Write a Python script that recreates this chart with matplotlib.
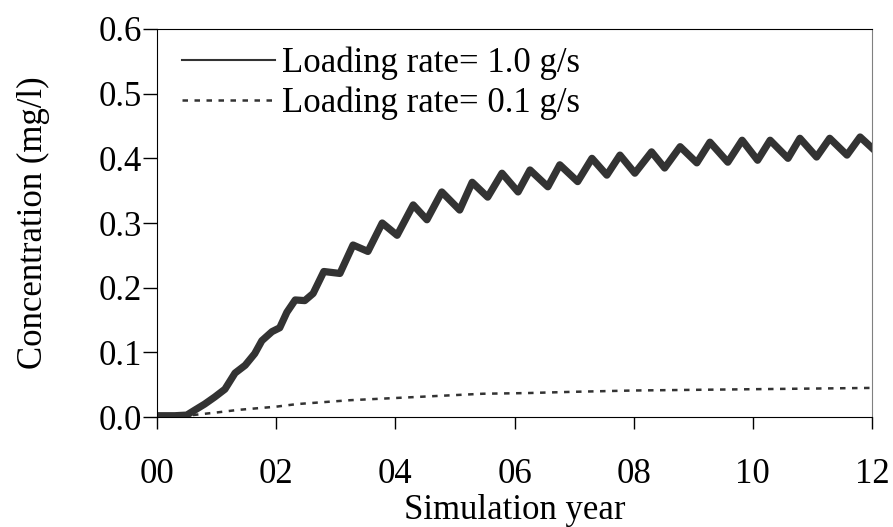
import matplotlib.pyplot as plt
from matplotlib.ticker import FuncFormatter

# loading rate 1.0 g/s (centre of the noisy band)
years_hi = [0.00, 0.30, 0.50, 0.64, 0.80, 0.97, 1.14, 1.31, 1.48, 1.64, 1.76,
            1.93, 2.06, 2.18, 2.32, 2.48, 2.62, 2.80, 3.07, 3.29, 3.54, 3.78,
            4.03, 4.30, 4.53, 4.78, 5.08, 5.29, 5.55, 5.79, 6.06, 6.26, 6.56,
            6.76, 7.06, 7.30, 7.55, 7.77, 8.02, 8.30, 8.52, 8.78, 9.06, 9.28,
            9.58, 9.82, 10.08, 10.29, 10.59, 10.79, 11.07, 11.29, 11.58, 11.80,
            12.00]
conc_hi = [0.002, 0.002, 0.003, 0.011, 0.020, 0.031, 0.043, 0.068, 0.080,
           0.098, 0.118, 0.132, 0.138, 0.162, 0.181, 0.180, 0.191, 0.225,
           0.222, 0.266, 0.256, 0.300, 0.281, 0.328, 0.305, 0.348, 0.320,
           0.363, 0.340, 0.377, 0.348, 0.382, 0.356, 0.390, 0.364, 0.400,
           0.374, 0.405, 0.377, 0.410, 0.385, 0.418, 0.393, 0.425, 0.394,
           0.428, 0.397, 0.428, 0.400, 0.431, 0.402, 0.431, 0.405, 0.433,
           0.416]

# loading rate 0.1 g/s
years_lo = [0.0, 0.5, 0.6, 1.0, 1.36, 2.0, 2.35, 3.24, 4.36, 5.47, 6.2, 7.0,
            8.0, 9.0, 10.0, 11.0, 12.0]
conc_lo = [0.001, 0.002, 0.003, 0.007, 0.011, 0.016, 0.020, 0.026, 0.031,
           0.036, 0.037, 0.039, 0.041, 0.042, 0.043, 0.044, 0.045]

labels = ["Loading rate= 1.0 g/s", "Loading rate= 0.1 g/s"]
xticks = [0, 2, 4, 6, 8, 10, 12]
yticks = [0.0, 0.1, 0.2, 0.3, 0.4, 0.5, 0.6]

plt.rcParams['font.family'] = ['Liberation Serif', 'DejaVu Serif']
plt.rcParams['font.size'] = 25

fig = plt.figure(figsize=(8.93, 5.27), dpi=100)
ax = fig.add_axes([0.1758, 0.2087, 0.8007, 0.7363])

ax.plot(years_hi, conc_hi, color="#333333", lw=5.2, label=labels[0])
ax.plot(years_lo, conc_lo, color="#333333", lw=1.8, dashes=(2.2, 2.6),
        label=labels[1])

ax.set_xlim(0, 12)
ax.set_ylim(0, 0.6)
ax.set_xticks(xticks)
ax.set_yticks(yticks)
ax.xaxis.set_major_formatter(FuncFormatter(lambda v, p: f"{v:02.0f}"))
ax.yaxis.set_major_formatter(FuncFormatter(lambda v, p: f"{v:.1f}"))
ax.tick_params(axis='x', direction='out', length=8.5, width=1, pad=21)
ax.tick_params(axis='y', direction='out', length=10, width=1, pad=1)
ax.spines['right'].set_color('#808080')

ax.set_xlabel("Simulation year", labelpad=2)
ax.set_ylabel("Concentration (mg/l)", labelpad=35)

leg = ax.legend(loc='upper left', bbox_to_anchor=(0.01, 1.0), frameon=False,
                handlelength=2.7, handletextpad=0.2, borderaxespad=0.2,
                labelspacing=0.2, borderpad=0.3)
leg.get_lines()[0].set_linewidth(1.5)

fig.savefig("out.png", dpi=100)
